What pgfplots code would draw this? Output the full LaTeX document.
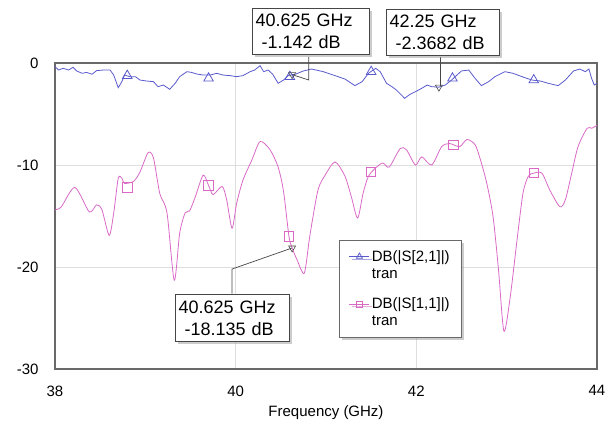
\documentclass[border=0pt]{standalone}
\usepackage{pgfplots}
\pgfplotsset{compat=1.18}
\usepackage{fontspec}
\setmainfont{Liberation Sans}
\usetikzlibrary{shadows}

\definecolor{sTwoOne}{RGB}{90,90,205}
\definecolor{sOneOne}{RGB}{218,105,198}
\definecolor{gridgray}{RGB}{222,222,222}
\definecolor{framegray}{RGB}{105,105,105}
\definecolor{markgray}{RGB}{70,70,70}

\newcommand{\tickfont}{\fontsize{15}{18}\selectfont}
\newcommand{\notefont}{\fontsize{18}{22}\selectfont}

\tikzset{note/.style={draw=markgray, fill=white, line width=0.8pt,
    drop shadow={shadow xshift=2.5pt, shadow yshift=-2.5pt, fill=gray!80},
    align=left, font=\notefont, inner xsep=3.5pt, inner ysep=6pt}}

\begin{document}
\begin{tikzpicture}
\useasboundingbox (-55pt,-57pt) rectangle (557pt,369pt);
\begin{axis}[
    scale only axis,
    width=542pt, height=306pt,
    xmin=38, xmax=44, ymin=-30, ymax=0,
    xtick={38,40,42,44}, xticklabels={38,40,42,44},
    ytick={-30,-20,-10,0}, yticklabels={-30,-20,-10,0},
    major tick length=0pt,
    grid=major,
    major grid style={gridgray, line width=0.8pt},
    axis line style={framegray, line width=1.2pt},
    tick label style={font=\tickfont},
    xticklabel style={yshift=-13pt},
    yticklabel style={xshift=-13pt},
    xlabel={Frequency (GHz)},
    xlabel style={font=\tickfont, at={(axis description cs:0.5,0)},
        anchor=north, yshift=-33pt},
    clip=false,
    legend cell align=left,
    legend style={at={(axis cs:41.14,-17.35)}, anchor=north west,
        draw=framegray, fill=white, line width=0.8pt,
        drop shadow={shadow xshift=2.5pt, shadow yshift=-2.5pt, fill=gray!80},
        font=\fontsize{15}{17}\selectfont,
        cells={anchor=west, align=left},
        row sep=14pt, inner xsep=10pt, inner ysep=8pt},
    legend image code/.code={
        \pgfpathmoveto{\pgfpoint{0pt}{-8.5pt}}
        \pgfpathlineto{\pgfpoint{0pt}{8.5pt}}
        \pgfusepath{discard}
        \draw[mark repeat=2, mark phase=2, #1]
            plot coordinates {(0pt,8.5pt) (10pt,8.5pt) (20pt,8.5pt)};},
]
% DB(|S[2,1]|)
\addplot[sTwoOne, line width=0.8pt, no markers, forget plot] coordinates {
    (38.00,-0.36) (38.04,-0.69) (38.09,-0.52) (38.15,-0.69) (38.20,-0.42)
    (38.24,-0.78) (38.30,-1.01) (38.35,-0.92) (38.41,-1.10) (38.46,-0.75)
    (38.53,-0.69) (38.61,-0.69) (38.65,-1.18) (38.70,-2.42) (38.74,-1.83)
    (38.77,-1.18) (38.83,-1.34) (38.89,-1.34) (38.94,-1.67) (39.01,-1.76)
    (39.09,-1.83) (39.14,-2.32) (39.20,-2.16) (39.27,-2.58) (39.33,-1.99)
    (39.38,-1.34) (39.46,-0.85) (39.51,-0.92) (39.57,-1.08) (39.64,-1.18)
    (39.72,-1.18) (39.79,-1.01) (39.86,-1.18) (39.94,-1.24) (40.01,-1.34)
    (40.08,-1.24) (40.16,-0.85) (40.21,-0.69) (40.27,-0.26) (40.31,-0.85)
    (40.36,-0.69) (40.41,-1.10) (40.47,-1.99) (40.53,-1.67) (40.58,-1.24)
    (40.625,-1.142) (40.66,-1.10) (40.75,-0.78) (40.84,-0.59) (40.97,-0.85)
    (41.10,-1.24) (41.21,-1.57) (41.32,-2.22) (41.40,-1.83) (41.47,-1.01)
    (41.55,-0.52) (41.60,-0.85) (41.67,-1.99) (41.73,-2.32) (41.78,-2.65)
    (41.87,-3.46) (41.93,-3.07) (41.99,-2.81) (42.06,-2.48) (42.12,-2.16)
    (42.17,-2.32) (42.25,-2.37) (42.32,-2.16) (42.39,-1.67) (42.45,-1.18)
    (42.50,-0.78) (42.58,-0.69) (42.65,-1.50) (42.72,-2.22) (42.80,-1.83)
    (42.87,-1.34) (42.98,-0.85) (43.07,-1.01) (43.17,-1.34) (43.28,-1.67)
    (43.37,-1.76) (43.46,-1.99) (43.57,-2.22) (43.65,-1.67) (43.74,-0.78)
    (43.81,-0.59) (43.87,-0.85) (43.91,-0.59) (43.94,-1.50) (43.97,-2.16)
    (44.00,-1.99)
};
% DB(|S[1,1]|)
\addplot[sOneOne, line width=0.8pt, no markers, smooth, tension=0.45,
    forget plot] coordinates {
    (38.00,-14.4) (38.07,-14.1) (38.22,-12.2) (38.38,-14.6) (38.46,-13.9)
    (38.52,-14.4) (38.60,-16.9) (38.65,-14.7) (38.70,-11.3) (38.74,-11.3)
    (38.77,-11.8) (38.87,-11.6) (38.94,-10.7) (39.03,-8.8) (39.09,-9.3)
    (39.16,-12.8) (39.24,-14.7) (39.32,-21.3) (39.38,-16.7) (39.44,-14.7)
    (39.49,-14.5) (39.55,-13.2) (39.64,-11.0) (39.70,-12.0) (39.75,-12.9)
    (39.85,-12.1) (39.90,-13.4) (39.96,-16.2) (40.01,-13.8) (40.08,-11.5)
    (40.18,-9.5) (40.27,-7.7) (40.38,-8.5) (40.47,-10.2) (40.53,-12.6)
    (40.59,-17.0) (40.625,-18.135) (40.68,-19.3) (40.76,-20.6) (40.82,-17.0)
    (40.91,-12.5) (40.99,-11.0) (41.10,-9.7) (41.21,-11.1) (41.28,-13.1)
    (41.35,-15.2) (41.41,-12.8) (41.47,-11.1) (41.56,-10.2) (41.63,-9.8)
    (41.70,-10.2) (41.82,-8.4) (41.89,-8.5) (41.99,-10.0) (42.06,-9.2)
    (42.17,-10.0) (42.28,-8.2) (42.37,-7.9) (42.48,-8.2) (42.56,-7.5)
    (42.65,-8.0) (42.71,-9.5) (42.78,-11.8) (42.85,-15.1) (42.91,-20.3)
    (42.97,-26.3) (43.04,-22.9) (43.11,-17.7) (43.18,-12.8) (43.24,-11.1)
    (43.30,-10.8) (43.39,-10.8) (43.48,-12.5) (43.59,-14.1) (43.65,-13.4)
    (43.72,-10.8) (43.79,-8.2) (43.89,-6.4) (43.94,-6.4) (44.00,-6.1)
};
% trace symbols
\addplot[only marks, sTwoOne, mark=triangle, mark size=5.5pt, line width=0.8pt,
    forget plot] coordinates {
    (38.80,-1.24) (39.70,-1.5) (40.60,-1.34) (41.50,-0.85) (42.40,-1.5) (43.30,-1.67)
};
\addplot[only marks, sOneOne, mark=square, mark size=4.7pt, line width=0.8pt,
    forget plot] coordinates {
    (38.80,-12.2) (39.70,-12.0) (40.59,-17.0) (41.50,-10.7) (42.41,-8.0) (43.30,-10.8)
};
% marker points
\addplot[only marks, markgray, mark=triangle, mark size=4pt, line width=0.6pt,
    mark options={rotate=180}, forget plot] coordinates {
    (40.625,-1.142) (42.25,-2.3682) (40.625,-18.135)
};
% legend
\addlegendimage{sTwoOne, line width=0.8pt, mark=triangle, mark size=3.5pt}
\addlegendentry{DB(|S[2,1]|)\\tran}
\addlegendimage{sOneOne, line width=0.8pt, mark=square, mark size=3pt}
\addlegendentry{DB(|S[1,1]|)\\tran}
% leader lines
\draw[markgray, line width=0.7pt] (axis cs:40.81,0.6) -- (axis cs:40.81,-1.67) -- (axis cs:40.625,-1.142);
\draw[markgray, line width=0.7pt] (axis cs:42.27,0.6) -- (axis cs:42.27,-2.3);
\draw[markgray, line width=0.7pt] (axis cs:39.96,-22.6) -- (axis cs:39.96,-20.2) -- (axis cs:40.625,-18.135);
% marker notes
\node[note, text width=110pt] at (axis cs:40.83,3.09) {40.625 GHz\\\ -1.142 dB};
\node[note, text width=106pt] at (axis cs:42.29,2.99) {42.25 GHz\\\ -2.3682 dB};
\node[note, text width=107pt] at (axis cs:39.96,-25.0) {40.625 GHz\\\ -18.135 dB};
\end{axis}
\end{tikzpicture}
\end{document}
